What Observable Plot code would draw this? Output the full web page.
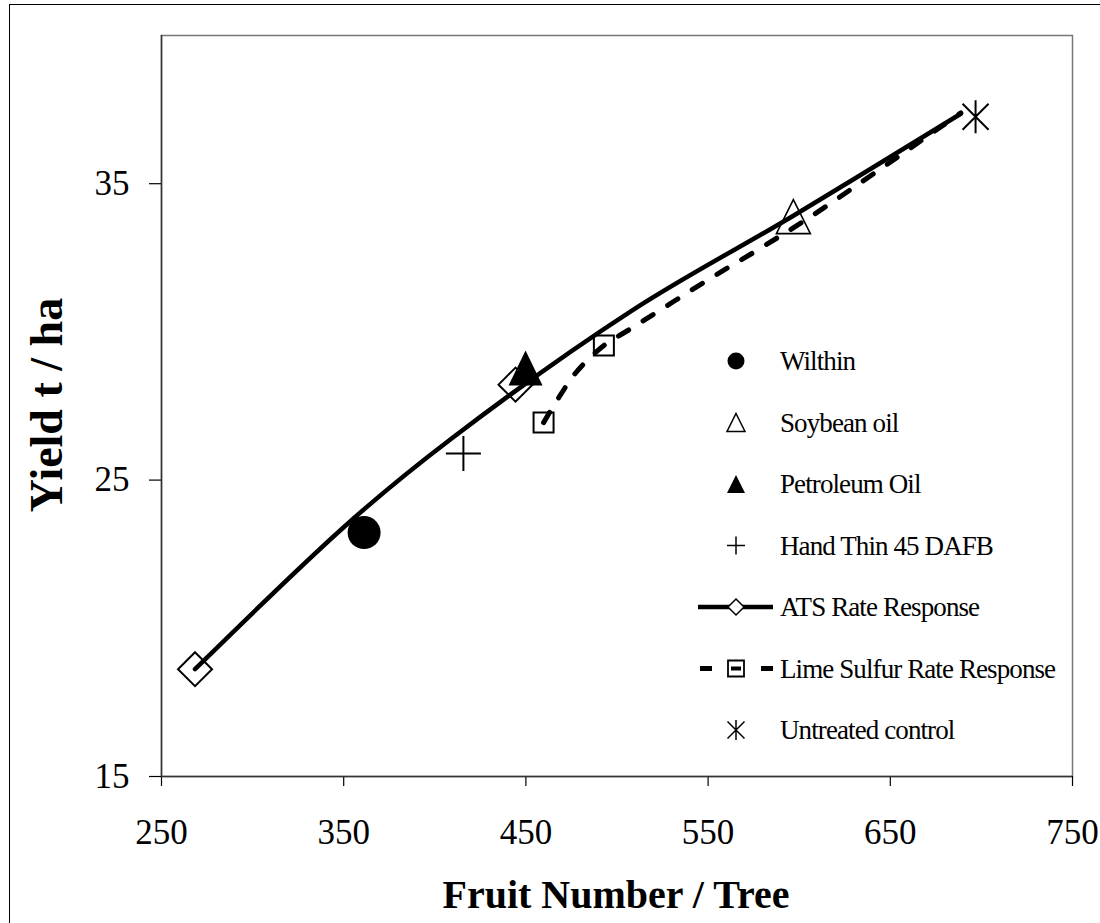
<!DOCTYPE html>
<html><head><meta charset="utf-8">
<script src="https://cdn.jsdelivr.net/npm/d3@7"></script>
<script src="https://cdn.jsdelivr.net/npm/@observablehq/plot@0.6"></script>
<style>
html,body{margin:0;padding:0;background:#fff;overflow:hidden;width:1100px;height:923px}
#wrap{position:relative;width:1100px;height:923px;overflow:hidden}
#border{position:absolute;left:9px;top:4px;width:1300px;height:1100px;border:1px solid #000;box-sizing:border-box}
#chart{position:absolute;left:0;top:0}
#overlay{position:absolute;left:0;top:0}
</style></head><body>
<div id="wrap"><div id="border"></div><div id="chart"></div></div>
<script>
// ---- data ----
const xTicks = [250, 350, 450, 550, 650, 750];
const yTicks = [15, 25, 35];

const atsCurveX = [268.4, 354.0, 408.5, 508.2, 596.8, 688.7];
const atsCurveY = [18.62, 23.63, 26.37, 30.72, 33.92, 37.36];
const atsMarkX = [268.4, 444.3];
const atsMarkY = [18.62, 28.22];

const limeCurveX = [459.7, 468.0, 477.9, 492.8, 507.6, 551.1, 579.2, 607.8, 688.7];
const limeCurveY = [26.94, 27.78, 28.66, 29.54, 30.11, 31.80, 32.84, 33.95, 37.39];
const limeMarkX = [459.7, 492.8];
const limeMarkY = [26.94, 29.54];

const singleNames = ["Wilthin", "Soybean oil", "Petroleum Oil", "Hand Thin 45 DAFB", "Untreated control"];
const singleX = [361.2, 596.8, 449.8, 415.7, 696.8];
const singleY = [23.23, 33.89, 28.78, 25.90, 37.26];

const legendLabels = ["Wilthin", "Soybean oil", "Petroleum Oil", "Hand Thin 45 DAFB",
  "ATS Rate Response", "Lime Sulfur Rate Response", "Untreated control"];

const xTitle = "Fruit Number / Tree";
const yTitle = "Yield t / ha";

// ---- custom marker shapes ----
function triSym(h, w) { return {draw(c){ c.moveTo(0,-h); c.lineTo(w,h); c.lineTo(-w,h); c.closePath(); }}; }
function diaSym(a) { return {draw(c){ c.moveTo(0,-a); c.lineTo(a,0); c.lineTo(0,a); c.lineTo(-a,0); c.closePath(); }}; }
function sqSym(a) { return {draw(c){ c.moveTo(-a,-a); c.lineTo(a,-a); c.lineTo(a,a); c.lineTo(-a,a); c.closePath(); }}; }
function plusSym(a) { return {draw(c){ c.moveTo(-a,0); c.lineTo(a,0); c.moveTo(0,-a); c.lineTo(0,a); }}; }
function astSym(a, v) { return {draw(c){ c.moveTo(-a,-a); c.lineTo(a,a); c.moveTo(a,-a); c.lineTo(-a,a); c.moveTo(0,-v); c.lineTo(0,v); }}; }

const ats = atsCurveX.map((x, i) => ({x, y: atsCurveY[i]}));
const atsM = atsMarkX.map((x, i) => ({x, y: atsMarkY[i]}));
const lime = limeCurveX.map((x, i) => ({x, y: limeCurveY[i]}));
const limeM = limeMarkX.map((x, i) => ({x, y: limeMarkY[i]}));
const singles = singleNames.map((name, i) => ({name, x: singleX[i], y: singleY[i]}));
const pick = n => singles.filter(d => d.name === n);

const serif = "'Liberation Serif','Times New Roman',Times,serif";

const chart = Plot.plot({
  width: 1100, height: 923,
  marginLeft: 161, marginRight: 28, marginTop: 35, marginBottom: 147,
  style: {fontFamily: serif, color: "#000", background: "transparent"},
  x: {domain: [250, 750]},
  y: {domain: [15, 40]},
  marks: [
    Plot.frame({stroke: "#777", strokeWidth: 1.5}),
    Plot.axisX(xTicks, {tickSize: 10, tickPadding: 33, fontSize: 35, label: null, tickFormat: d => String(d), stroke: "#000", strokeWidth: 1.2}),
    Plot.axisY(yTicks, {tickSize: 12, tickPadding: 20, fontSize: 35, label: null, tickFormat: d => String(d), stroke: "#000", strokeWidth: 1.2}),
    Plot.ruleX([250], {stroke: "#333", strokeWidth: 1.5}),
    Plot.ruleY([15], {stroke: "#333", strokeWidth: 1.5}),
    Plot.line(ats, {x: "x", y: "y", curve: "catmull-rom", stroke: "#000", strokeWidth: 4.5}),
    Plot.line(lime, {x: "x", y: "y", curve: "catmull-rom", stroke: "#000", strokeWidth: 5, strokeDasharray: "12,17"}),
    Plot.dot(atsM, {x: "x", y: "y", symbol: diaSym(17), fill: "none", stroke: "#000", strokeWidth: 2}),
    Plot.dot(limeM, {x: "x", y: "y", symbol: sqSym(10), fill: "none", stroke: "#000", strokeWidth: 2}),
    Plot.dot(pick("Wilthin"), {x: "x", y: "y", r: 16.5, fill: "#000", stroke: "none"}),
    Plot.dot(pick("Soybean oil"), {x: "x", y: "y", symbol: triSym(17, 17), fill: "none", stroke: "#000", strokeWidth: 1.6}),
    Plot.dot(pick("Petroleum Oil"), {x: "x", y: "y", symbol: triSym(17.5, 17), fill: "#000", stroke: "none"}),
    Plot.dot(pick("Hand Thin 45 DAFB"), {x: "x", y: "y", symbol: plusSym(17.5), fill: "none", stroke: "#000", strokeWidth: 2}),
    Plot.dot(pick("Untreated control"), {x: "x", y: "y", symbol: astSym(13, 16.5), fill: "none", stroke: "#000", strokeWidth: 2})
  ]
});
document.getElementById("chart").appendChild(chart);

// ---- overlay: axis titles and legend ----
const o = d3.select("#wrap").append("svg").attr("id", "overlay")
  .attr("width", 1100).attr("height", 923);

o.append("text").text(xTitle).attr("x", 616).attr("y", 908)
  .attr("text-anchor", "middle").attr("font-family", serif).attr("font-weight", "bold").attr("font-size", 40);
o.append("text").text(yTitle).attr("transform", "translate(62,405) rotate(-90)")
  .attr("text-anchor", "middle").attr("font-family", serif).attr("font-weight", "bold").attr("font-size", 46);

const lx = 736, tx = 780, ly0 = 361, lstep = 61.5;
const sym = (s) => { const p = d3.path(); s.draw(p); return p.toString(); };
legendLabels.forEach((lab, i) => {
  const cy = ly0 + i * lstep;
  const g = o.append("g");
  if (i === 0) g.append("circle").attr("cx", lx).attr("cy", cy).attr("r", 8.5).attr("fill", "#000");
  if (i === 1) g.append("path").attr("d", sym(triSym(9, 9))).attr("transform", `translate(${lx},${cy})`).attr("fill", "none").attr("stroke", "#000").attr("stroke-width", 1.5);
  if (i === 2) g.append("path").attr("d", sym(triSym(9, 9))).attr("transform", `translate(${lx},${cy})`).attr("fill", "#000");
  if (i === 3) g.append("path").attr("d", sym(plusSym(9))).attr("transform", `translate(${lx},${cy})`).attr("fill", "none").attr("stroke", "#000").attr("stroke-width", 1.5);
  if (i === 4) {
    g.append("line").attr("x1", 698).attr("x2", 773).attr("y1", cy).attr("y2", cy).attr("stroke", "#000").attr("stroke-width", 4.5);
    g.append("path").attr("d", sym(diaSym(8))).attr("transform", `translate(${lx},${cy})`).attr("fill", "#fff").attr("stroke", "#000").attr("stroke-width", 1.5);
  }
  if (i === 5) {
    g.append("line").attr("x1", 700).attr("x2", 712).attr("y1", cy).attr("y2", cy).attr("stroke", "#000").attr("stroke-width", 5);
    g.append("line").attr("x1", 761).attr("x2", 773).attr("y1", cy).attr("y2", cy).attr("stroke", "#000").attr("stroke-width", 5);
    g.append("path").attr("d", sym(sqSym(8))).attr("transform", `translate(${lx},${cy})`).attr("fill", "none").attr("stroke", "#000").attr("stroke-width", 1.8);
    g.append("line").attr("x1", 731).attr("x2", 741).attr("y1", cy).attr("y2", cy).attr("stroke", "#000").attr("stroke-width", 4);
  }
  if (i === 6) g.append("path").attr("d", sym(astSym(8.5, 10))).attr("transform", `translate(${lx},${cy})`).attr("fill", "none").attr("stroke", "#000").attr("stroke-width", 1.5);
  g.append("text").text(lab).attr("x", tx).attr("y", cy).attr("dy", "0.34em")
    .attr("font-family", serif).attr("font-size", 27).attr("letter-spacing", "-0.9px").attr("fill", "#000");
});
</script>
</body></html>
